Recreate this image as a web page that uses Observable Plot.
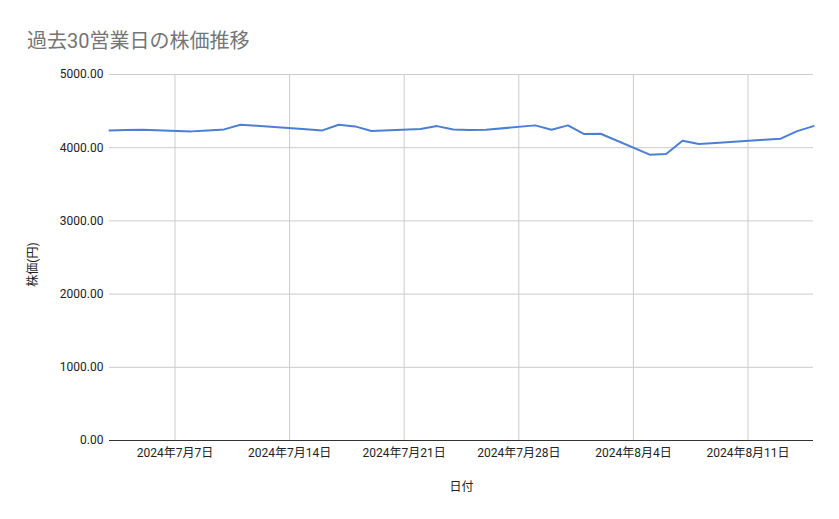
<!DOCTYPE html>
<html><head><meta charset="utf-8">
<script src="https://cdn.jsdelivr.net/npm/d3@7"></script>
<script src="https://cdn.jsdelivr.net/npm/@observablehq/plot@0.6"></script>
<style>
html,body{margin:0;padding:0;background:#fff;}
#wrap{width:839px;height:519px;position:relative;font-family:Roboto,"Noto Sans CJK JP",sans-serif;}
#title{position:absolute;left:27px;top:25px;font-size:20px;color:#757575;white-space:nowrap;}
#chart{position:absolute;left:0;top:55px;}
</style></head>
<body>
<div id="wrap"><div id="title">過去30営業日の株価推移</div><div id="chart"></div></div>
<script>
const dates = ["2024-07-03","2024-07-04","2024-07-05","2024-07-08","2024-07-09","2024-07-10","2024-07-11","2024-07-12","2024-07-15","2024-07-16","2024-07-17","2024-07-18","2024-07-19","2024-07-22","2024-07-23","2024-07-24","2024-07-25","2024-07-26","2024-07-29","2024-07-30","2024-07-31","2024-08-01","2024-08-02","2024-08-05","2024-08-06","2024-08-07","2024-08-08","2024-08-09","2024-08-12","2024-08-13","2024-08-14","2024-08-15"];
const prices = [4236,4241,4244,4223,4236,4250,4314,4299,4252,4236,4314,4291,4227,4255,4295,4248,4241,4245,4305,4245,4305,4186,4191,3905,3914,4095,4050,4065,4108,4123,4227,4295];
const xTicks = ["2024-07-07","2024-07-14","2024-07-21","2024-07-28","2024-08-04","2024-08-11"];
const yTicks = [0,1000,2000,3000,4000,5000];
const yLabel = "株価(円)";
const xLabel = "日付";

const parse = d3.utcParse("%Y-%m-%d");
const data = dates.map((d,i)=>({date:parse(d), price:prices[i]}));
const xt = xTicks.map(parse);
const fmt = d => `${d.getUTCFullYear()}年${d.getUTCMonth()+1}月${d.getUTCDate()}日`;

const chart = Plot.plot({
  width: 839, height: 464,
  marginLeft: 109, marginRight: 26, marginTop: 19, marginBottom: 79,
  style: {fontFamily: 'Roboto,"Noto Sans CJK JP",sans-serif', fontSize: "12px", color: "#222", background: "#fff"},
  x: {type: "utc", domain: [data[0].date, data[data.length-1].date]},
  y: {domain: [0, 5000]},
  marks: [
    Plot.gridX(xt, {stroke: "#cccccc", strokeOpacity: 1}),
    Plot.gridY(yTicks.filter(v=>v>0), {stroke: "#cccccc", strokeOpacity: 1}),
    Plot.axisX({ticks: xt, tickFormat: fmt, tickSize: 0, tickPadding: 8, label: xLabel, labelAnchor: "center", labelOffset: 50, labelArrow: "none", fill:"#222"}),
    Plot.axisY({ticks: yTicks, tickFormat: d => d.toFixed(2), tickSize: 0, tickPadding: 6, label: null, fill:"#222"}),
    Plot.text([yLabel], {frameAnchor: "left", dx: -76, dy: 7, rotate: -90, fill: "#222", fontSize: 12, textAnchor: "middle"}),
    Plot.ruleY([0], {stroke: "#333", strokeWidth: 1}),
    Plot.line(data, {x: "date", y: "price", stroke: "#4a7fd4", strokeWidth: 2})
  ]
});
document.getElementById("chart").appendChild(chart);
</script>
</body></html>
